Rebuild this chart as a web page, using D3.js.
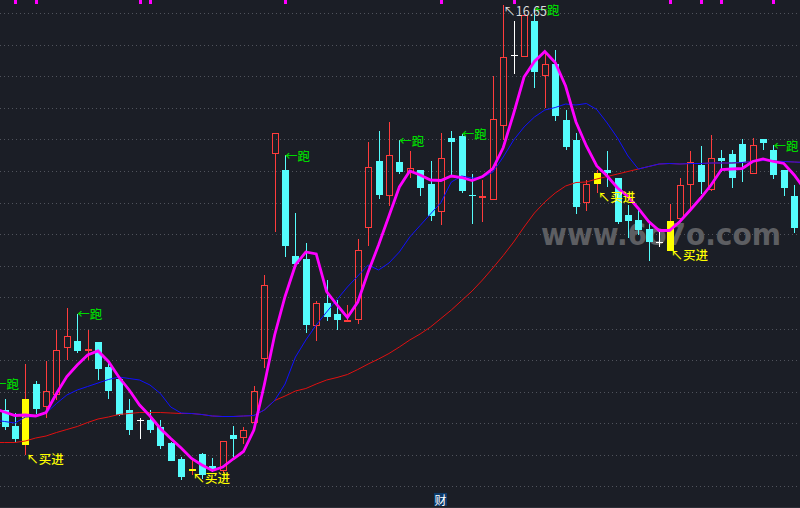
<!DOCTYPE html>
<html><head><meta charset="utf-8">
<script src="https://cdn.jsdelivr.net/npm/d3@7/dist/d3.min.js"></script>
<style>html,body{margin:0;padding:0;background:#1b1e26;overflow:hidden}</style>
</head><body>
<svg id="c" width="800" height="508"></svg>
<script>
// bar index of the first entry (one bar sits just left of the visible area)
const firstIndex = -1;
const opens  = [8.75,8.55,8.24,7.86,9.08,8.62,8.85,9.80,9.93,9.73,9.92,9.42,9.17,8.55,8.35,8.35,8.21,7.89,7.57,7.33,7.67,7.43,7.34,8.05,8.00,8.30,9.58,13.68,13.35,11.63,11.57,10.24,10.70,10.47,10.30,10.36,12.20,13.53,12.84,13.50,13.30,13.35,13.07,12.52,13.98,14.03,12.86,12.80,12.76,14.22,15.65,15.60,16.33,15.22,15.48,14.35,13.95,12.70,13.08,13.35,13.20,12.45,12.35,12.18,11.92,11.72,12.37,13.06,13.45,12.95,13.58,13.68,13.87,13.28,13.97,13.75,13.35,12.83,12.20];
const highs  = [9.09,8.77,8.50,9.48,9.13,9.53,10.15,10.60,10.48,10.16,9.92,9.55,9.22,8.77,8.40,8.55,8.35,7.92,7.62,7.55,7.69,7.59,7.94,8.24,8.22,9.04,11.24,14.10,13.65,12.48,11.90,10.74,11.15,10.75,10.65,11.98,13.90,14.13,14.30,13.95,13.72,13.35,13.53,14.10,14.13,14.08,13.28,13.15,15.23,16.65,16.33,16.45,16.57,15.72,15.75,14.55,14.10,13.15,13.35,13.73,13.20,12.66,12.60,12.30,12.18,12.67,13.20,13.73,13.83,14.05,13.76,13.76,13.97,13.98,13.97,13.85,13.35,13.06,12.40];
const lows   = [8.51,8.15,7.92,7.65,8.48,8.40,8.76,9.55,9.70,9.55,9.15,8.77,8.43,8.05,7.97,8.10,7.78,7.53,7.15,7.26,7.18,7.32,7.29,7.62,7.88,8.30,9.38,12.12,11.62,11.46,10.10,9.94,10.34,10.14,10.30,10.27,11.84,12.77,12.63,13.27,13.20,12.83,12.34,12.24,13.25,12.90,12.27,12.30,12.76,13.95,15.27,15.60,15.00,14.60,14.34,13.75,12.46,12.54,12.89,13.02,12.28,12.00,12.05,11.54,11.82,11.72,12.37,12.60,12.87,12.93,13.31,13.00,13.12,13.28,13.75,13.18,12.83,12.10,11.90];
const closes = [8.91,8.22,7.97,8.77,8.57,8.93,9.75,10.03,9.73,9.78,9.37,8.93,8.45,8.15,8.35,8.15,7.84,7.53,7.21,7.38,7.25,7.35,7.94,7.98,8.16,8.93,11.05,14.10,11.84,11.46,10.25,10.70,10.42,10.35,10.36,11.76,13.40,12.85,13.65,13.32,13.38,13.00,12.43,13.58,13.92,12.94,12.83,12.84,14.37,15.60,15.65,16.45,15.32,15.48,14.44,13.80,12.62,13.08,13.30,13.30,12.30,12.34,12.15,11.92,11.92,12.33,13.06,13.50,13.12,13.58,13.54,13.20,13.48,13.85,13.88,13.26,13.00,12.20,12.05];
// short (magenta), middle (blue) and long (red) averages
const maShort = [8.58,8.51,8.44,8.45,8.43,8.50,8.88,9.22,9.45,9.65,9.73,9.52,9.21,8.95,8.65,8.43,8.18,7.98,7.79,7.58,7.45,7.34,7.41,7.57,7.72,8.15,9.05,10.05,10.82,11.45,11.71,11.67,10.92,10.65,10.40,10.71,11.31,11.85,12.43,13.01,13.33,13.25,13.15,13.14,13.23,13.20,13.14,13.22,13.38,13.80,14.48,15.21,15.52,15.72,15.50,15.03,14.31,13.83,13.43,13.23,12.99,12.82,12.58,12.32,12.14,12.14,12.32,12.55,12.79,13.05,13.36,13.37,13.38,13.52,13.57,13.52,13.48,13.25,12.97];
const maMid   = [8.35,8.32,8.29,8.41,8.42,8.49,8.68,8.85,8.95,9.02,9.09,9.16,9.21,9.18,9.15,9.05,8.88,8.61,8.49,8.48,8.46,8.43,8.42,8.42,8.43,8.44,8.55,8.74,9.07,9.61,9.95,10.25,10.51,10.76,11.01,11.23,11.45,11.35,11.49,11.71,12.01,12.24,12.47,12.70,13.11,13.23,13.19,13.20,13.31,13.61,13.95,14.21,14.41,14.55,14.60,14.67,14.65,14.68,14.56,14.29,13.99,13.63,13.37,13.42,13.47,13.48,13.47,13.48,13.48,13.49,13.49,13.49,13.50,13.52,13.54,13.53,13.52,13.51,13.50];
const maLong  = [7.90,7.90,7.90,7.93,7.99,8.03,8.10,8.16,8.22,8.30,8.37,8.41,8.46,8.48,8.50,8.50,8.50,8.49,8.48,8.48,8.46,8.43,8.42,8.42,8.43,8.44,8.55,8.74,8.83,8.93,8.98,9.07,9.15,9.20,9.26,9.36,9.47,9.57,9.68,9.81,9.95,10.07,10.21,10.38,10.55,10.74,10.93,11.15,11.39,11.64,11.91,12.21,12.49,12.71,12.89,13.03,13.10,13.11,13.17,13.22,13.27,13.32,13.37,13.42,13.47,13.48,13.47,13.48,13.48,13.49,13.49,13.49,13.50,13.52,13.54,13.53,13.52,13.51,13.50];
const buyBars  = [2, 18, 57, 64];
const sellBars = [-1, 7, 27, 38, 44, 51, 74];
const topMarkBars = [1, 3, 13, 14, 27, 42, 49, 64, 67, 69, 74];
const peakBar = 48;
const gridPrices = [16.48,15.85,15.22,14.59,13.96,13.33,12.70,12.07,11.44,10.81,10.18,9.55,8.92,8.29,7.66,7.03];
const watermark = "www.6o7o.com";
const bottomTag = "财";

const bars = opens.map((o,k)=>({i:k+firstIndex,o,h:highs[k],l:lows[k],c:closes[k]}));

const svg = d3.select("#c");
const x = d3.scaleLinear().domain([0,76]).range([4.5,794.2]);
const y = d3.scaleLinear().domain([6.75,16.75]).range([500,0]);
const px = i => Math.round(x(i)) + 0.5;
const ry = v => Math.round(y(v));

svg.append("rect").attr("width",800).attr("height",508).attr("fill","#1b1e26");

// grid
svg.append("g").selectAll("line").data(gridPrices).join("line")
  .attr("x1",0).attr("x2",800)
  .attr("y1",d=>ry(d)+0.5).attr("y2",d=>ry(d)+0.5)
  .attr("stroke","#50535c").attr("stroke-width",1).attr("stroke-dasharray","1,3");

// watermark
svg.append("text").attr("x",541).attr("y",245).text(watermark)
  .attr("font-family","DejaVu Sans").attr("font-weight","bold").attr("font-size",31).attr("fill","#5d5e62")
  .attr("textLength",240).attr("lengthAdjust","spacingAndGlyphs");

const UP="#ff3c3c", DOWN="#54fcfc", BUY="#ffff00";
const gBars = svg.append("g");
bars.forEach(b=>{
  const cx = px(b.i);
  const isBuy = buyBars.includes(b.i);
  const top = ry(Math.max(b.o,b.c)), bot = ry(Math.min(b.o,b.c));
  const yh = ry(b.h), yl = ry(b.l);
  if (b.c === b.o) {
    gBars.append("line").attr("x1",cx).attr("x2",cx).attr("y1",yh).attr("y2",yl).attr("stroke","#fff");
    gBars.append("line").attr("x1",cx-3.5).attr("x2",cx+3.5).attr("y1",top+0.5).attr("y2",top+0.5).attr("stroke","#fff");
  } else if (b.c > b.o) {
    gBars.append("line").attr("x1",cx).attr("x2",cx).attr("y1",yh).attr("y2",top).attr("stroke",UP);
    gBars.append("line").attr("x1",cx).attr("x2",cx).attr("y1",bot).attr("y2",yl).attr("stroke",UP);
    if (isBuy) {
      gBars.append("rect").attr("x",cx-3.5).attr("y",top).attr("width",7).attr("height",Math.max(1,bot-top)).attr("fill",BUY);
    } else {
      gBars.append("rect").attr("x",cx-3).attr("y",top+0.5).attr("width",6).attr("height",Math.max(1,bot-top-1))
        .attr("fill","none").attr("stroke",UP);
    }
  } else {
    gBars.append("line").attr("x1",cx).attr("x2",cx).attr("y1",yh).attr("y2",yl).attr("stroke",DOWN);
    gBars.append("rect").attr("x",cx-3.5).attr("y",top).attr("width",7).attr("height",Math.max(1,bot-top)).attr("fill",isBuy?BUY:DOWN);
  }
});

// averages
const lineGen = arr => d3.line().x((d,k)=>x(k+firstIndex)).y(d=>y(d))(arr);
svg.append("path").attr("d",lineGen(maLong)).attr("fill","none").attr("stroke","#e01010").attr("stroke-width",1);
svg.append("path").attr("d",lineGen(maMid)).attr("fill","none").attr("stroke","#1010ff").attr("stroke-width",1);
svg.append("path").attr("d",lineGen(maShort)).attr("fill","none").attr("stroke","#ff00ff").attr("stroke-width",2.8);

// signal texts
const byIdx = i => bars[i-firstIndex];
const fnt = "'Noto Sans CJK SC', sans-serif";
svg.append("g").selectAll("text").data(sellBars).join("text")
  .attr("x",d=>x(d)).attr("y",d=>y(byIdx(d).h)).attr("dominant-baseline","central")
  .attr("font-family",fnt).attr("font-size",12.5).attr("font-weight",500).attr("fill","#00d800").text("←跑");
svg.append("g").selectAll("text").data(buyBars).join("text")
  .attr("x",d=>x(d)+1).attr("y",d=>y(byIdx(d).l)+3).attr("dominant-baseline","central")
  .attr("font-family",fnt).attr("font-size",12.5).attr("font-weight",500).attr("fill",BUY).text("↖买进");
svg.append("text").attr("x",x(peakBar)).attr("y",y(byIdx(peakBar).h)+5).attr("dominant-baseline","central")
  .attr("font-family",fnt).attr("font-size",12.5).attr("fill","#dcdcdc").text("↖" + byIdx(peakBar).h.toFixed(2));

// top marks
svg.append("g").selectAll("rect").data(topMarkBars).join("rect")
  .attr("x",d=>Math.round(x(d))-1).attr("y",0).attr("width",3).attr("height",4).attr("fill","#ff00ff");

// bottom strip
svg.append("rect").attr("x",0).attr("y",507).attr("width",800).attr("height",1).attr("fill","#2c2f37");
svg.append("rect").attr("x",434).attr("y",493).attr("width",13).attr("height",13).attr("fill","#0b3a6a");
svg.append("text").attr("x",440.5).attr("y",499.5).attr("text-anchor","middle").attr("dominant-baseline","central")
  .attr("font-family",fnt).attr("font-size",12).attr("fill","#ffffff").text(bottomTag);
</script>
</body></html>
